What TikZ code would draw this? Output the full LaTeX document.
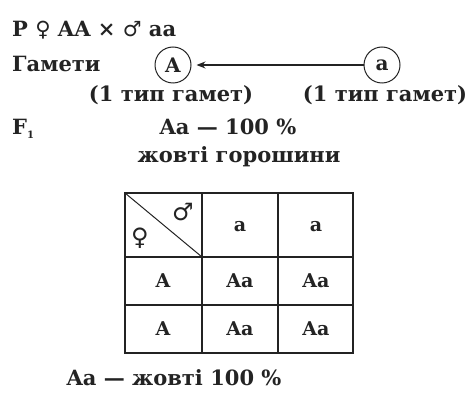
\documentclass[tikz,border=0pt]{standalone}
\usepackage{fontspec}
\setmainfont{DejaVu Serif}
\newfontfamily\gendersym{DejaVu Sans}
\usepackage{xcolor}
\definecolor{inkgray}{RGB}{35, 35, 35}
\usetikzlibrary{arrows.meta, positioning}

\newcommand{\femsign}{{\gendersym ♀}}
\newcommand{\malsign}{{\gendersym ♂}}

\begin{document}
\begin{tikzpicture}[x=1pt, y=-1pt,
  txt/.style={font=\fontsize{21}{25}\selectfont\bfseries, inner sep=0pt, text=inkgray},
  gamete/.style={circle, draw=inkgray, line width=1pt, minimum size=36pt, inner sep=0pt,
                 font=\fontsize{20}{24}\selectfont\bfseries, text=inkgray},
  punnett/.style={line width=1.2pt, draw=inkgray},
  cell/.style={font=\fontsize{19}{23}\selectfont\bfseries, inner sep=0pt, text=inkgray}]

  \useasboundingbox (0, 0) rectangle (470, 395);

  % parents and gametes
  \node[txt, anchor=base west] (parents) at (12, 37) {P \femsign\ AA × \malsign\ aa};
  \node[txt, anchor=base west] (gamlabel) at (12, 72) {Гамети};
  \node[gamete] (gA) at (173, 65) {A};
  \node[gamete] (ga) at (382, 65) {a};
  \draw[punnett, -{Stealth[length=9pt, width=7pt]}, shorten >=5pt] (ga) -- (gA);
  \node[txt, anchor=base] (typeA) at (171, 102) {(1 тип гамет)};
  \node[txt, anchor=base] (typea) at (385, 102) {(1 тип гамет)};

  % first generation
  \node[txt, anchor=base west] (fone) at (12, 135) {F\raisebox{-4pt}{\fontsize{10}{12}\selectfont 1}};
  \node[txt, anchor=base] (fratio) at (228, 135) {Aa — 100 \%};
  \node[txt, anchor=base] (fpheno) at (239, 163) {жовті горошини};

  % the Punnett square
  \draw[punnett] (125, 193) rectangle (353, 353);
  \foreach \x in {202, 278} {
    \draw[punnett] (\x, 193) -- (\x, 353);
  }
  \foreach \y in {257, 305} {
    \draw[punnett] (125, \y) -- (353, \y);
  }
  \draw[punnett, line width=1pt] (125, 193) -- (202, 257);
  \node[cell, font=\fontsize{24}{28}\selectfont] (male) at (183, 212) {\malsign};
  \node[cell, font=\fontsize{24}{28}\selectfont] (female) at (140, 238) {\femsign};
  \node[cell] (colA) at (240, 227) {a};
  \node[cell] (cola) at (316, 227) {a};
  \node[cell] (rowA) at (163, 281) {A};
  \node[cell] (rowa) at (163, 329) {A};
  \foreach \cx in {240, 316} {
    \foreach \cy in {281, 329} {
      \node[cell] (c\cx\cy) at (\cx, \cy) {Aa};
    }
  }

  % result
  \node[txt, anchor=base] (result) at (174, 385) {Aa — жовті 100 \%};

\end{tikzpicture}
\end{document}
